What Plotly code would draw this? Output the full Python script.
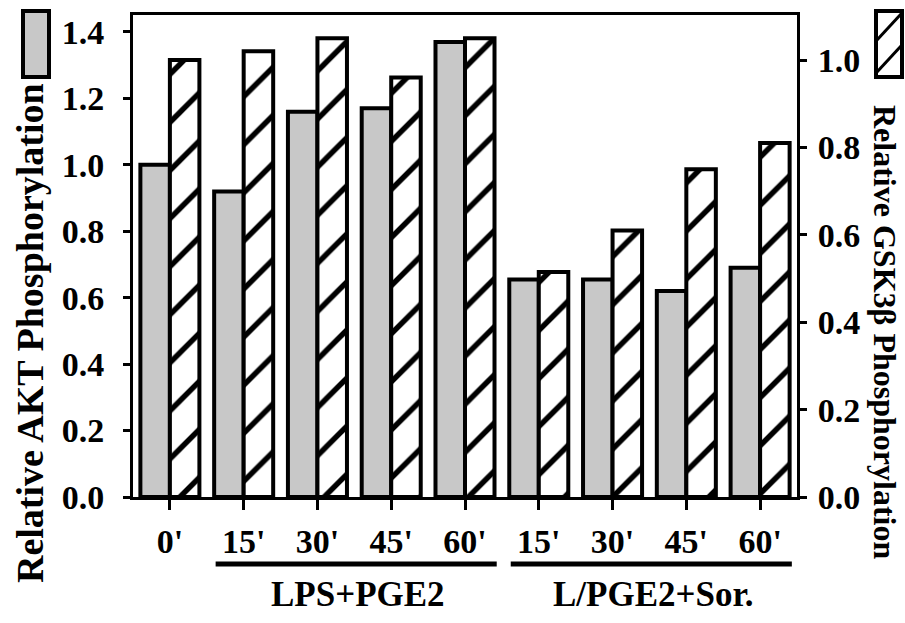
import plotly.graph_objects as go

# ---- data ----
time_labels = ["0'", "15'", "30'", "45'", "60'", "15'", "30'", "45'", "60'"]
akt_values = [1.00, 0.92, 1.16, 1.17, 1.37, 0.655, 0.655, 0.62, 0.69]
gsk_values = [1.00, 1.02, 1.05, 0.96, 1.05, 0.515, 0.61, 0.75, 0.81]
groups = [("LPS+PGE2", 1, 4), ("L/PGE2+Sor.", 5, 8)]
left_ticks = [0.0, 0.2, 0.4, 0.6, 0.8, 1.0, 1.2, 1.4]
right_ticks = [0.0, 0.2, 0.4, 0.6, 0.8, 1.0]

FONT = "Liberation Serif"
W, H = 905, 623
L, R, T, B = 133, 108, 15, 126
PW, PH = W - L - R, H - T - B


def px(xp):
    return (xp - L) / PW


def py(yp):
    return (H - B - yp) / PH


xs = list(range(len(time_labels)))

fig = go.Figure()
fig.add_trace(go.Bar(
    x=xs, y=akt_values, yaxis="y", width=0.4, offset=-0.4,
    marker=dict(color="#c8c8c8", line=dict(color="black", width=4)),
    showlegend=False,
))
fig.add_trace(go.Bar(
    x=xs, y=gsk_values, yaxis="y2", width=0.4, offset=0.0,
    marker=dict(color="white", line=dict(color="black", width=4),
                pattern=dict(shape="/", fgcolor="black", bgcolor="white",
                             fgopacity=1, size=34, solidity=0.16)),
    showlegend=False,
))

shapes = []
annotations = []
for name, i0, i1 in groups:
    shapes.append(dict(type="line", xref="x", yref="paper",
                       x0=i0 - 0.38, x1=i1 + 0.43, y0=py(564), y1=py(564),
                       line=dict(color="black", width=5)))
    annotations.append(dict(text=name, xref="x", yref="paper",
                            x=(i0 + i1) / 2 + 0.05, y=py(594), showarrow=False,
                            xanchor="center", yanchor="middle",
                            font=dict(family=FONT, size=35, color="black", weight="bold")))

# legend swatches
shapes.append(dict(type="rect", xref="paper", yref="paper",
                   x0=px(23), x1=px(49), y0=py(77), y1=py(11),
                   fillcolor="#c8c8c8", line=dict(color="black", width=4)))
shapes.append(dict(type="rect", xref="paper", yref="paper",
                   x0=px(876), x1=px(902), y0=py(77), y1=py(11),
                   fillcolor="white", line=dict(color="black", width=4)))
for (a, b, c, d) in [(877, 40, 901, 14), (877, 72, 901, 46)]:
    shapes.append(dict(type="line", xref="paper", yref="paper",
                       x0=px(a), y0=py(b), x1=px(c), y1=py(d),
                       line=dict(color="black", width=3)))

annotations.append(dict(text="Relative AKT Phosphorylation", xref="paper", yref="paper",
                        x=px(30), y=py(333), textangle=-90, showarrow=False,
                        xanchor="center", yanchor="middle",
                        font=dict(family=FONT, size=38, color="black", weight="bold")))
annotations.append(dict(text="Relative GSK3β Phosphorylation", xref="paper", yref="paper",
                        x=px(885), y=py(332), textangle=90, showarrow=False,
                        xanchor="center", yanchor="middle",
                        font=dict(family=FONT, size=32, color="black", weight="bold")))

tickfont = dict(family=FONT, size=34, color="black", weight="bold")

fig.update_layout(
    width=W, height=H,
    margin=dict(l=L, r=R, t=T, b=B, autoexpand=False),
    paper_bgcolor="white", plot_bgcolor="white",
    barmode="overlay",
    xaxis=dict(range=[-0.5, len(xs) - 0.5], tickvals=xs, ticktext=time_labels,
               showline=True, linecolor="black", linewidth=3, mirror=True,
               ticks="outside", ticklen=10, tickwidth=3, tickcolor="black",
               tickfont=tickfont, ticklabelstandoff=2, showgrid=False, zeroline=False),
    yaxis=dict(range=[0, 1.451], tickvals=left_ticks,
               ticktext=[f"{v:.1f}" for v in left_ticks],
               showline=True, linecolor="black", linewidth=3,
               ticks="outside", ticklen=7, tickwidth=3, tickcolor="black",
               tickfont=tickfont, ticklabelstandoff=12, showgrid=False, zeroline=False),
    yaxis2=dict(range=[0, 1.103], tickvals=right_ticks,
                ticktext=[f"{v:.1f}" for v in right_ticks],
                overlaying="y", side="right",
                showline=True, linecolor="black", linewidth=3,
                ticks="outside", ticklen=7, tickwidth=3, tickcolor="black",
                tickfont=tickfont, ticklabelstandoff=4, showgrid=False, zeroline=False),
    shapes=shapes,
    annotations=annotations,
)

fig.write_html("out.html", config={"displayModeBar": False},
               post_script="document.body.style.margin='0';")
